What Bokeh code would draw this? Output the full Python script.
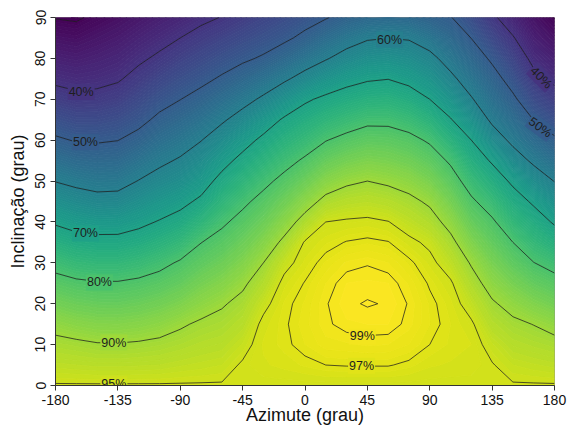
import numpy as np
from bokeh.plotting import figure
from bokeh.plotting.contour import contour_data
from bokeh.models import FixedTicker, Range1d, ColumnDataSource
from bokeh.palettes import Viridis256
from bokeh.core.properties import value
from bokeh.embed import file_html
from bokeh.resources import INLINE

# ---------------- data ----------------
azimuth = [-180, -165, -150, -135, -120, -105, -90, -75, -60, -45, -30, -15,
           0, 15, 30, 45, 60, 75, 90, 105, 120, 135, 150, 165, 180]
inclination = [0, 5, 10, 15, 20, 25, 30, 35, 40, 45, 50, 55, 60, 65, 70, 75, 80, 85, 90]

irr_inc00 = [95.2] * 25
irr_inc05 = [93.2, 93.0, 92.8, 92.8, 92.9, 93.0, 93.4, 93.7, 94.0, 95.3, 95.9, 96.2,
             96.6, 97.0, 97.1, 97.1, 97.1, 96.7, 96.1, 95.9, 95.8, 95.15, 94.0, 93.6, 93.2]
irr_inc10 = [91.2, 90.8, 90.3, 90.25, 90.5, 90.9, 91.5, 92.2, 92.6, 94.1, 96.1, 96.7,
             97.5, 98.3, 98.4, 98.6, 98.5, 98.0, 97.0, 96.4, 96.0, 94.1, 92.4, 91.8, 91.2]
irr_inc15 = [88.6, 87.7, 87.1, 87.0, 87.4, 88.2, 89.5, 90.6, 91.2, 92.6, 95.7, 96.8,
             97.8, 98.8, 99.4, 99.5, 99.5, 98.7, 97.5, 96.5, 95.4, 92.3, 90.8, 89.9, 88.6]
irr_inc20 = [85.2, 84.3, 83.8, 83.7, 84.2, 85.1, 86.4, 88.2, 89.6, 91.1, 94.2, 96.6,
             97.6, 98.9, 99.8, 100.1, 99.9, 98.9, 97.4, 96.2, 93.7, 90.5, 88.6, 86.7, 85.2]
irr_inc25 = [81.9, 80.9, 80.4, 80.4, 81.0, 82.0, 83.4, 85.5, 87.1, 89.3, 92.1, 95.8,
             97.1, 98.5, 99.5, 99.6, 99.5, 98.4, 96.8, 95.4, 91.7, 88.3, 85.7, 83.4, 81.9]
irr_inc30 = [78.1, 76.7, 76.2, 76.2, 77.1, 78.6, 80.6, 82.7, 84.5, 86.8, 90.0, 94.0,
             96.2, 97.6, 98.6, 98.9, 98.5, 97.4, 95.8, 93.4, 89.6, 85.8, 82.8, 80.1, 78.1]
irr_inc35 = [73.7, 72.3, 71.8, 71.8, 72.8, 74.5, 76.5, 79.9, 81.9, 84.3, 87.2, 91.0,
             95.3, 96.4, 97.1, 97.4, 97.1, 95.7, 94.4, 91.2, 86.7, 83.3, 80.0, 76.5, 73.7]
irr_inc40 = [69.3, 67.8, 67.1, 67.2, 68.6, 70.4, 72.2, 75.5, 79.1, 81.7, 84.4, 87.8,
             91.7, 95.0, 95.4, 95.6, 95.1, 93.5, 91.8, 88.5, 83.8, 80.8, 76.3, 73.0, 69.3]
irr_inc45 = [64.6, 63.1, 62.1, 62.3, 64.4, 66.5, 68.4, 71.1, 75.5, 78.9, 81.7, 84.7,
             88.0, 91.3, 92.5, 92.9, 92.3, 91.1, 89.3, 85.5, 80.9, 77.3, 72.8, 69.1, 64.6]
irr_inc50 = [59.8, 58.5, 57.6, 57.8, 60.2, 62.4, 64.2, 67.3, 71.9, 75.4, 78.6, 81.5,
             84.4, 87.5, 89.2, 90.0, 89.3, 88.2, 86.0, 82.5, 77.5, 73.4, 68.9, 63.9, 59.8]
irr_inc55 = [55.4, 54.0, 53.5, 53.8, 56.1, 58.7, 60.7, 63.6, 67.9, 71.8, 75.0, 78.1,
             80.8, 83.7, 85.4, 86.4, 85.9, 84.8, 82.8, 79.2, 73.7, 69.3, 63.3, 58.8, 55.4]
irr_inc60 = [50.9, 49.6, 49.4, 49.9, 52.0, 55.0, 57.1, 59.8, 63.5, 67.6, 71.4, 74.5,
             77.0, 79.8, 81.5, 82.7, 82.5, 81.5, 79.3, 74.8, 70.0, 63.6, 58.5, 54.4, 50.9]
irr_inc65 = [46.7, 45.5, 45.5, 46.3, 48.3, 51.3, 53.5, 56.0, 59.1, 62.6, 66.7, 70.8,
             73.3, 75.6, 77.3, 78.8, 78.8, 77.5, 74.7, 70.4, 65.2, 58.8, 54.8, 49.9, 46.7]
irr_inc70 = [42.5, 41.4, 41.6, 42.7, 45.1, 47.8, 49.9, 52.1, 54.9, 57.8, 61.1, 65.1,
             69.1, 71.3, 72.9, 74.1, 74.4, 73.0, 70.0, 65.9, 60.5, 55.6, 51.1, 45.8, 42.5]
irr_inc75 = [38.8, 38.1, 38.5, 39.4, 41.9, 44.4, 46.6, 48.5, 50.75, 53.2, 55.9, 59.0,
             62.4, 65.6, 68.0, 69.4, 69.9, 68.4, 65.8, 61.4, 56.9, 52.4, 47.6, 41.7, 38.8]
irr_inc80 = [35.8, 35.2, 36.0, 37.0, 39.0, 41.0, 43.3, 45.2, 47.2, 49.0, 50.7, 53.5,
             56.6, 59.5, 62.4, 64.4, 64.9, 64.0, 61.7, 57.5, 53.4, 49.0, 44.0, 38.4, 35.8]
irr_inc85 = [32.8, 32.3, 33.5, 34.7, 36.4, 38.1, 40.0, 42.0, 43.7, 45.5, 47.2, 48.9,
             51.4, 54.6, 57.3, 59.4, 59.9, 59.5, 57.0, 53.8, 49.9, 45.0, 40.4, 35.7, 32.8]
irr_inc90 = [29.8, 29.4, 31.0, 32.3, 33.9, 35.5, 37.0, 38.7, 40.2, 42.1, 44.0, 45.8,
             47.7, 49.6, 52.0, 53.5, 54.0, 53.5, 52.0, 50.3, 46.0, 41.0, 37.0, 33.0, 29.8]

x_ticks = [-180, -135, -90, -45, 0, 45, 90, 135, 180]
y_ticks = [0, 10, 20, 30, 40, 50, 60, 70, 80, 90]
line_levels = [30, 40, 50, 60, 70, 80, 90, 95, 97, 99, 100]

label_text = ["40%", "50%", "60%", "40%", "50%", "70%", "80%", "90%", "95%", "97%", "99%"]
label_level = [40, 50, 60, 40, 50, 70, 80, 90, 95, 97, 99]
label_az = [-161.5, -158.4, 61.0, 170.4, 169.7, -158.4, -148.3, -137.9, -137.9, 40.8, 41.3]
label_inc = [71.8, 59.5, 84.6, 75.3, 63.1, 37.2, 25.2, 10.5, 0.3, 4.8, 12.0]
label_angle_deg = [0, 0, 0, -45, -36, 0, 0, 0, 0, 0, 0]

# ---------------- build ----------------
Z = np.array([irr_inc00, irr_inc05, irr_inc10, irr_inc15, irr_inc20, irr_inc25,
              irr_inc30, irr_inc35, irr_inc40, irr_inc45, irr_inc50, irr_inc55,
              irr_inc60, irr_inc65, irr_inc70, irr_inc75, irr_inc80, irr_inc85, irr_inc90])
zmin, zmax = float(Z.min()), float(Z.max())


def vcolor(v):
    t = (v - zmin) / (zmax - zmin)
    t = min(max(t, 0.0), 1.0)
    return Viridis256[int(round(t * 255))]


fill_levels = list(np.arange(np.floor(zmin) - 0.5, np.ceil(zmax) + 0.75, 0.5))
cdata = contour_data(np.array(azimuth, dtype=float), np.array(inclination, dtype=float), Z,
                     fill_levels, want_fill=True, want_line=False)
fd = cdata.fill_data
band_colors = [vcolor(0.5 * (lo + hi)) for lo, hi in zip(fd.lower_levels, fd.upper_levels)]

p = figure(width=568, height=427, x_range=Range1d(-180, 180), y_range=Range1d(0, 90),
           output_backend="svg", toolbar_location=None,
           min_border_left=55, min_border_right=14, min_border_top=17, min_border_bottom=41)
p.background_fill_color = "white"
p.border_fill_color = "white"
p.grid.visible = False
p.outline_line_color = "#8f8f8f"
p.outline_line_width = 1

src = ColumnDataSource(dict(xs=fd.xs, ys=fd.ys, color=band_colors))
p.multi_polygons(xs="xs", ys="ys", fill_color="color", line_color="color",
                 line_width=0.9, source=src)

p.contour(azimuth, inclination, Z, line_levels, line_color="#1e1e1e", line_width=0.75)

angles = [float(np.radians(a)) for a in label_angle_deg]
bg = [vcolor(l) for l in label_level]
try:
    p.text(x=label_az, y=label_inc, text=label_text, angle=angles,
           text_align="center", text_baseline="middle",
           text_font=value("Liberation Sans"), text_font_size="12.5px", text_color="#1e1e1e",
           background_fill_color=bg, padding=1)
except Exception:
    p.text(x=label_az, y=label_inc, text=label_text, angle=angles,
           text_align="center", text_baseline="middle",
           text_font=value("Liberation Sans"), text_font_size="12.5px", text_color="#1e1e1e")

for ax in (p.xaxis[0], p.yaxis[0]):
    ax.major_label_text_font = "Liberation Sans"
    ax.major_label_text_font_size = "14px"
    ax.major_label_text_color = "#111111"
    ax.minor_tick_line_color = None
    ax.major_tick_in = 0
    ax.major_tick_out = 5
    ax.major_tick_line_color = "#333333"
    ax.axis_line_color = "#333333"
    ax.axis_label_text_font = "Liberation Sans"
    ax.axis_label_text_font_size = "18px"
    ax.axis_label_text_font_style = "normal"
    ax.axis_label_text_color = "#111111"

p.xaxis.ticker = FixedTicker(ticks=x_ticks)
p.yaxis.ticker = FixedTicker(ticks=y_ticks)
p.xaxis.major_label_overrides = {t: str(t) for t in x_ticks}
p.xaxis.major_label_standoff = 4
p.xaxis.axis_label = "Azimute (grau)"
p.xaxis.axis_label_standoff = -3
p.yaxis.major_label_standoff = 5
p.yaxis.major_label_orientation = "vertical"
p.yaxis.axis_label = "Inclinação (grau)"
p.yaxis.axis_label_standoff = 5

open("out.html", "w").write(file_html(p, INLINE))
